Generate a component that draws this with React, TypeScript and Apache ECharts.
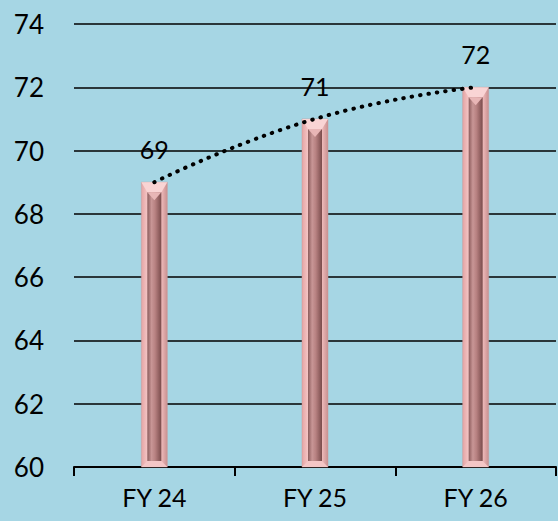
import React, { useEffect, useRef } from "react";
import * as echarts from "echarts";

const categories = ["FY 24", "FY 25", "FY 26"];
const values = [69, 71, 72];
const yMin = 60;
const yMax = 74;
const yInterval = 2;

export default function App() {
  const ref = useRef<HTMLDivElement>(null);
  useEffect(() => {
    if (!ref.current) return;
    const chart = echarts.init(ref.current, null, { renderer: "svg" });
    const font = "Lato, 'Open Sans', sans-serif";
    const option = {
      animation: false,
      backgroundColor: "#A6D6E4",
      grid: { left: 74, right: 2, top: 24, bottom: 54 },
      xAxis: {
        type: "category",
        data: categories,
        boundaryGap: true,
        axisLine: { show: true, lineStyle: { color: "#000", width: 2 } },
        axisTick: { show: true, length: 9, lineStyle: { color: "#000", width: 2 } },
        axisLabel: { color: "#000", fontSize: 25, fontFamily: font, margin: 17 },
        splitLine: { show: false },
      },
      yAxis: {
        type: "value",
        min: yMin,
        max: yMax,
        interval: yInterval,
        axisLine: { show: false },
        axisTick: { show: false },
        axisLabel: { color: "#000", fontSize: 26, fontFamily: font, margin: 30 },
        splitLine: { show: true, lineStyle: { color: "#000", width: 1.5 } },
      },
      series: [
        {
          type: "custom",
          data: values.map((v, i) => [i, v]),
          encode: { x: 0, y: 1 },
          z: 2,
          renderItem: (params: any, api: any) => {
            const idx = api.value(0);
            const val = api.value(1);
            const top = api.coord([idx, val]);
            const base = api.coord([idx, yMin]);
            const w = 26;
            const x0 = top[0] - w / 2;
            const y0 = top[1];
            const h = base[1] - top[1];
            const inset = 6;
            const bevelT = 10;
            const bevelB = 6;
            return {
              type: "group",
              children: [
                {
                  type: "rect",
                  shape: { x: x0, y: y0, width: w, height: h },
                  style: {
                    fill: new echarts.graphic.LinearGradient(0, 0, 1, 0, [
                      { offset: 0, color: "#E4A4A4" },
                      { offset: 0.25, color: "#F6C8C8" },
                      { offset: 0.75, color: "#F2BEBE" },
                      { offset: 1, color: "#C89090" },
                    ]),
                    stroke: "#C89A9A",
                    lineWidth: 0.5,
                  },
                },
                {
                  type: "polygon",
                  shape: {
                    points: [
                      [x0, y0],
                      [x0 + w, y0],
                      [x0 + w - inset, y0 + bevelT],
                      [x0 + inset, y0 + bevelT],
                    ],
                  },
                  style: { fill: "#F9D4D4" },
                },
                {
                  type: "rect",
                  shape: {
                    x: x0 + inset,
                    y: y0 + bevelT,
                    width: w - 2 * inset,
                    height: Math.max(0, h - bevelT - bevelB),
                  },
                  style: {
                    fill: new echarts.graphic.LinearGradient(0, 0, 1, 0, [
                      { offset: 0, color: "#8C5C5C" },
                      { offset: 0.3, color: "#C89696" },
                      { offset: 0.55, color: "#B88282" },
                      { offset: 1, color: "#7A4C4C" },
                    ]),
                  },
                },
                {
                  type: "polygon",
                  shape: {
                    points: [
                      [x0 + inset, y0 + bevelT],
                      [x0 + w - inset, y0 + bevelT],
                      [x0 + w / 2, y0 + bevelT + 8],
                    ],
                  },
                  style: { fill: "#E8B6B6" },
                },
                {
                  type: "polygon",
                  shape: {
                    points: [
                      [x0 + inset, base[1] - bevelB],
                      [x0 + w - inset, base[1] - bevelB],
                      [x0 + w, base[1]],
                      [x0, base[1]],
                    ],
                  },
                  style: { fill: "#F4C6C6" },
                },
              ],
            };
          },
        },
        {
          type: "line",
          data: values,
          smooth: true,
          symbol: "circle",
          symbolSize: 1,
          showSymbol: true,
          itemStyle: { color: "rgba(0,0,0,0)" },
          z: 3,
          lineStyle: { color: "#000", width: 4, type: [0.5, 8], cap: "round" },
          label: {
            show: true,
            position: "top",
            distance: 20,
            color: "#000",
            fontSize: 25,
            fontFamily: font,
          },
        },
      ],
    };
    chart.setOption(option as any);
    return () => chart.dispose();
  }, []);
  return (
    <div
      ref={ref}
      style={{ position: "fixed", left: 0, top: 0, width: 558, height: 521 }}
    />
  );
}
